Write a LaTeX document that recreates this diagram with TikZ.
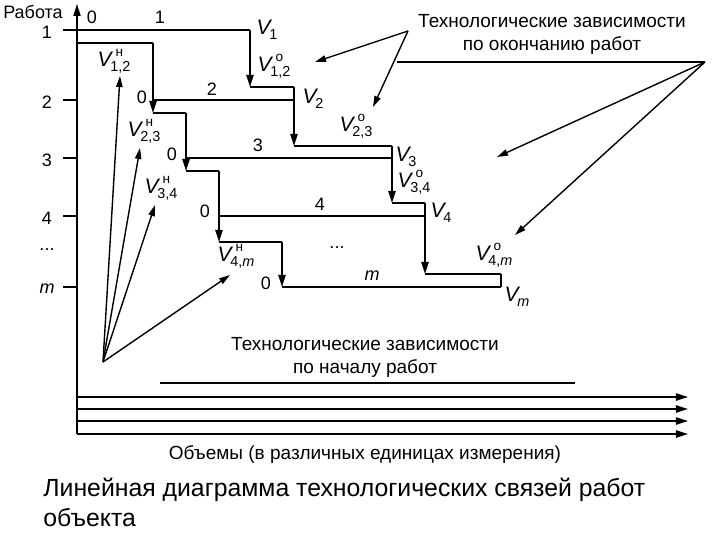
\documentclass[tikz,border=0pt]{standalone}
\usepackage{fontspec}
\setmainfont{Liberation Sans}
\usepackage{tikz}
\usetikzlibrary{arrows.meta, calc}

% volume label: V with index below and mark above
\newcommand{\Vl}[2]{{\itshape V}\kern-0.6pt\raisebox{-2.4pt}{\rlap{\raisebox{7.6pt}{\kern2.6pt\fontsize{6.8}{7}\selectfont #2}}\fontsize{7.2}{8}\selectfont #1}}

\begin{document}
\begin{tikzpicture}[x=0.5pt, y=-0.5pt, >={Triangle[length=6pt, width=3.6pt]},
    work/.style={line width=0.6pt},
    link/.style={line width=1.4pt},
    drop/.style={->, line width=0.8pt},
    pointer/.style={->, line width=0.7pt, >={Triangle[length=5.5pt, width=3.2pt]}},
    lbl/.style={font=\fontsize{9}{10}\selectfont, inner sep=0pt},
    vlbl/.style={font=\fontsize{10.5}{11}\selectfont, inner sep=0pt},
    note/.style={font=\fontsize{9.5}{11.5}\selectfont, align=center, inner sep=0pt}]

  \useasboundingbox (0,0) rectangle (720,540);

  % Axes
  \coordinate (o) at (77,434);
  \coordinate (top) at (77,4);
  \draw[->, line width=0.7pt] (o) -- (top);
  \node[lbl] (yname) at (33,12) {Работа};

  % Rows of works: start and end points
  \foreach \i/\y/\s/\e/\t in {1/30/77/250/1, 2/100/153/294/2, 3/158/186/392/3,
                              4/216/219/425/4, m/287/282/501/\textit{m}}{
    \coordinate (s\i) at (\s,\y);
    \coordinate (e\i) at (\e,\y);
    \coordinate (tick\i) at (63,\y);
    \draw[work] (tick\i) -- (o |- s\i);
    \node[lbl] (num\i) at (47,\y+2) {\t};
    \draw[work] (s\i) -- (e\i);
  }
  \node[lbl] (dotsy) at (47,250) {...};

  % Links by start of works
  \coordinate (a1) at (77,43);
  \coordinate (a2) at (153,113);
  \coordinate (a3) at (186,171);
  \coordinate (a4) at (219,242);
  \draw[link] (a1) -- (a2 |- a1);
  \draw[drop] (a2 |- a1) -- (a2);
  \draw[link] (a2) -- (a3 |- a2);
  \draw[drop] (a3 |- a2) -- (a3);
  \draw[link] (a3) -- (a4 |- a3);
  \draw[drop] (a4 |- a3) -- (a4);
  \draw[link] (a4) -- (sm |- a4);
  \draw[drop] (sm |- a4) -- (sm);

  % Links by end of works
  \coordinate (b2) at (294,87);
  \coordinate (b3) at (392,146);
  \coordinate (b4) at (425,203);
  \coordinate (bm) at (501,274);
  \draw[drop] (e1) -- (e1 |- b2);
  \draw[link] (e1 |- b2) -- (b2);
  \draw[drop] (b2) -- (b2 |- b3);
  \draw[link] (b2 |- b3) -- (b3);
  \draw[drop] (b3) -- (b3 |- b4);
  \draw[link] (b3 |- b4) -- (b4);
  \draw[drop] (b4) -- (b4 |- bm);
  \draw[link] (b4 |- bm) -- (bm);
  \draw[line width=0.8pt] (bm) -- (em);

  % Row labels
  \node[lbl] (z1) at (92,17) {0};
  \node[lbl] (w1) at (160,17) {1};
  \node[lbl] (z2) at (142,97) {0};
  \node[lbl] (w2) at (212,89) {2};
  \node[lbl] (z3) at (172,154) {0};
  \node[lbl] (w3) at (258,145) {3};
  \node[lbl] (z4) at (205,211) {0};
  \node[lbl] (w4) at (320,204) {4};
  \node[lbl] (dotsw) at (337,248) {...};
  \node[lbl] (zm) at (266,283) {0};
  \node[lbl] (wm) at (372,276) {\textit{m}};

  % Volumes
  \node[vlbl] (v1) at (267,30) {\Vl{1}{}};
  \node[vlbl] (v12) at (274,66) {\Vl{1,2}{о}};
  \node[vlbl] (v2) at (313,99) {\Vl{2}{}};
  \node[vlbl] (v23) at (356,126) {\Vl{2,3}{о}};
  \node[vlbl] (v3) at (406,157) {\Vl{3}{}};
  \node[vlbl] (v34) at (414,182) {\Vl{3,4}{о}};
  \node[vlbl] (v4) at (441,213) {\Vl{4}{}};
  \node[vlbl] (v4m) at (494,255) {\Vl{4,\textit{m}}{о}};
  \node[vlbl] (vm) at (517,297) {\Vl{\textit{m}}{}};

  \node[vlbl] (h12) at (114,61) {\Vl{1,2}{н}};
  \node[vlbl] (h23) at (144,131) {\Vl{2,3}{н}};
  \node[vlbl] (h34) at (161,188) {\Vl{3,4}{н}};
  \node[vlbl] (h4m) at (236,256) {\Vl{4,\textit{m}}{н}};

  % Pointers by start of works
  \coordinate (fan) at (103,362);
  \coordinate (f1) at (120,76);
  \coordinate (f2) at (140,148);
  \coordinate (f3) at (155,205);
  \coordinate (f4) at (230,275);
  \foreach \k in {1,...,4}{
    \draw[pointer] (fan) -- (f\k);
  }

  % Pointers by end of works
  \node[note] (endnote) at (552,34) {Технологические зависимости\\по окончанию работ};
  \coordinate (p0) at (408,31);
  \coordinate (p1) at (315,62);
  \coordinate (p2) at (373,107);
  \coordinate (q0) at (705,62);
  \coordinate (q1) at (497,157);
  \coordinate (q2) at (515,235);
  \coordinate (ql) at (397,62);
  \draw[work] (ql) -- (q0);
  \draw[pointer] (p0) -- (p1);
  \draw[pointer] (p0) -- (p2);
  \draw[pointer] (q0) -- (q1);
  \draw[pointer] (q0) -- (q2);

  % Bottom part
  \node[note] (startnote) at (365,357) {Технологические зависимости\\по началу работ};
  \coordinate (ul) at (160,383);
  \coordinate (ur) at (575,383);
  \draw[work] (ul) -- (ur);
  \foreach \k/\y in {1/397, 2/409, 3/421, 4/434}{
    \coordinate (vol\k) at (77,\y);
    \coordinate (volend\k) at (688,\y);
    \draw[->, line width=0.8pt] (vol\k) -- (volend\k);
  }
  \node[note] (xname) at (365,455) {Объемы (в различных единицах измерения)};

  % Caption
  \node[anchor=north west, align=left, inner sep=0pt,
        font=\fontsize{12.4}{15}\selectfont] (caption) at (43,478)
        {Линейная диаграмма технологических связей работ\\объекта};
\end{tikzpicture}
\end{document}
